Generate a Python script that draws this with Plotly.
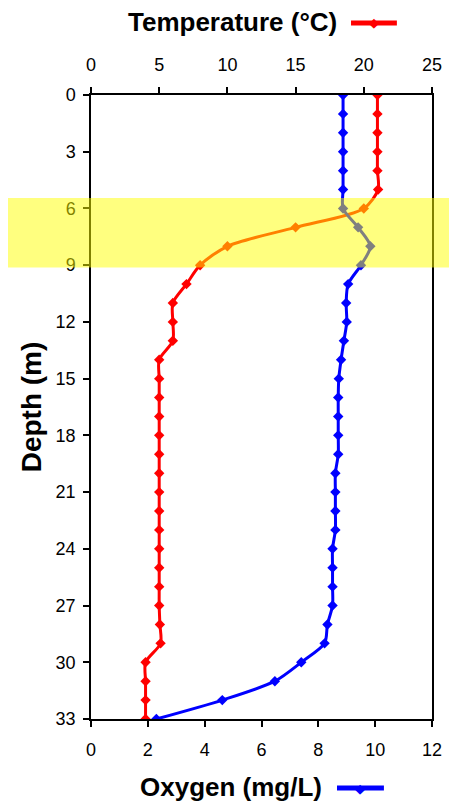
import plotly.graph_objects as go

depth = list(range(0, 34))
temperature = [21.0, 21.0, 21.0, 21.0, 21.0, 21.05, 20.0, 15.0, 10.0, 8.0,
               7.0, 6.0, 6.0, 6.0, 5.0, 5.0, 5.0, 5.0, 5.0, 5.0,
               5.0, 5.0, 5.0, 5.0, 5.0, 5.0, 5.0, 5.0, 5.05, 5.1,
               4.0, 4.0, 4.0, 4.0]
oxygen = [8.87, 8.87, 8.87, 8.87, 8.87, 8.87, 8.87, 9.4, 9.83, 9.5,
          9.05, 8.98, 9.0, 8.9, 8.8, 8.72, 8.7, 8.7, 8.7, 8.7,
          8.6, 8.6, 8.6, 8.6, 8.5, 8.5, 8.5, 8.5, 8.32, 8.22,
          7.4, 6.47, 4.62, 2.3]
temp_ticks = [0, 5, 10, 15, 20, 25]
oxy_ticks = [0, 2, 4, 6, 8, 10, 12]
depth_ticks = [0, 3, 6, 9, 12, 15, 18, 21, 24, 27, 30, 33]
band = [5.45, 9.12]

FONT = "Liberation Sans, Arial, sans-serif"
RED = "#ff0000"
BLUE = "#0000ff"

fig = go.Figure()
fig.add_trace(go.Scatter(
    x=temperature, y=depth, xaxis="x", yaxis="y", mode="lines+markers",
    line=dict(color=RED, width=3, shape="spline", smoothing=0.8),
    marker=dict(symbol="diamond", size=8, color=RED), showlegend=False))
fig.add_trace(go.Scatter(
    x=oxygen, y=depth, xaxis="x2", yaxis="y", mode="lines+markers",
    line=dict(color=BLUE, width=3, shape="spline", smoothing=0.8),
    marker=dict(symbol="diamond", size=8, color=BLUE), showlegend=False))

axis_common = dict(showline=True, linecolor="black", linewidth=1.5,
                   ticks="outside", ticklen=6, tickcolor="black", tickwidth=1.5,
                   showgrid=False, zeroline=False,
                   tickfont=dict(family=FONT, size=18, color="black"))

# page body has an 8px default margin, so the figure is sized to fit the window
fig.update_layout(
    width=449, height=798,
    margin=dict(l=83, r=25, t=87, b=87),
    paper_bgcolor="white", plot_bgcolor="white",
    xaxis=dict(range=[0, 25], tickvals=temp_ticks, side="top", mirror=True,
               ticklabelstandoff=9, **axis_common),
    xaxis2=dict(range=[0, 12], tickvals=oxy_ticks, side="bottom", overlaying="x",
                ticklabelstandoff=8, **axis_common),
    yaxis=dict(range=[33, 0], tickvals=depth_ticks, mirror=True,
               ticklabelstandoff=4, **axis_common),
)

# titles with legend glyphs
fig.add_annotation(text="<b>Temperature (°C)</b>", xref="paper", yref="paper",
                   x=0.4135, y=1.117, xanchor="center", yanchor="middle",
                   showarrow=False, font=dict(family=FONT, size=26, color="black"))
fig.add_shape(type="line", xref="paper", yref="paper", x0=0.7625, x1=0.897,
              y0=1.1154, y1=1.1154, line=dict(color=RED, width=5))
fig.add_annotation(text="◆", xref="paper", yref="paper", x=0.83, y=1.1154,
                   xanchor="center", yanchor="middle", showarrow=False,
                   font=dict(family="DejaVu Sans", size=13, color=RED))

fig.add_annotation(text="<b>Oxygen (mg/L)</b>", xref="paper", yref="paper",
                   x=0.412, y=-0.109, xanchor="center", yanchor="middle",
                   showarrow=False, font=dict(family=FONT, size=26, color="black"))
fig.add_shape(type="line", xref="paper", yref="paper", x0=0.7214, x1=0.859,
              y0=-0.1106, y1=-0.1106, line=dict(color=BLUE, width=5))
fig.add_annotation(text="◆", xref="paper", yref="paper", x=0.79, y=-0.1106,
                   xanchor="center", yanchor="middle", showarrow=False,
                   font=dict(family="DejaVu Sans", size=13, color=BLUE))

fig.add_annotation(text="<b>Depth (m)</b>", xref="paper", yref="paper",
                   x=-0.175, y=0.5, xanchor="center", yanchor="middle", textangle=-90,
                   showarrow=False, font=dict(family=FONT, size=28, color="black"))

# highlighted thermocline band
fig.add_shape(type="rect", xref="paper", yref="y", x0=-0.3, x1=1.1,
              y0=band[0], y1=band[1], fillcolor="rgba(255,255,0,0.5)",
              line=dict(width=0), layer="above")

fig.write_html("out.html")
